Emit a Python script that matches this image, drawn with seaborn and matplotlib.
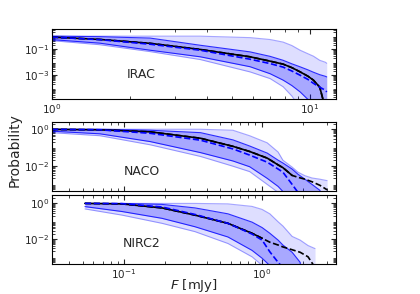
import numpy as np
import pandas as pd
import matplotlib
matplotlib.use("Agg")
import matplotlib.pyplot as plt
from matplotlib.ticker import NullFormatter, LogLocator
import seaborn as sns

# values (probability of exceeding flux F)
TINY = 1e-9

irac_f = [1.0, 1.53, 2.40, 3.75, 5.85, 7.0, 7.86, 8.5, 9.15, 9.8, 10.3, 10.9, 11.45, 11.6]
irac_hi95 = [1, 1, 1, 1, 0.77, 0.55, 0.35, 0.19, 0.083, 0.045, 0.029, 0.014, 0.010, 0.0083]
irac_hi68 = [1, 0.91, 0.71, 0.20, 0.062, 0.028, 0.014, 0.0075, 0.0044, 0.0026, 0.0017, 0.0011, 0.00083, 0.00074]
irac_lo68 = [0.54, 0.29, 0.083, 0.026, 0.0045, 0.0013, 4.2e-4, 1.6e-4, 5.2e-5, 1.4e-5, 3e-6, TINY, TINY, TINY]
irac_lo95 = [0.45, 0.22, 0.065, 0.016, 0.0018, 5.5e-4, 1.3e-4, 2.5e-5, 3e-6, TINY, TINY, TINY, TINY, TINY]
irac_obs = [0.84, 0.56, 0.28, 0.095, 0.026, 0.012, 0.0071, 0.0038, 0.0018, 8.5e-4, 4.2e-4, 1.2e-4, 3e-6, np.nan]
irac_ext = [0.84, 0.56, 0.28, 0.095, 0.026, 0.012, 0.0071, 0.0038, 0.0018, 8.5e-4, 4.2e-4, 1.2e-4, 3e-6, np.nan]
irac_model = [0.84, 0.54, 0.24, 0.083, 0.017, 0.0078, 0.0042, 0.0021, 0.001, 4.8e-4, 2.4e-4, 1.2e-4, 7.1e-5, 5.2e-5]

naco_f = [0.03, 0.067, 0.155, 0.36, 0.62, 0.82, 1.1, 1.32, 1.43, 1.67, 1.84, 2.07, 2.33, 2.66, 3.0]
naco_hi95 = [1, 1, 1, 1, 0.88, 0.44, 0.18, 0.056, 0.020, 0.0083, 0.0044, 0.0028, 0.0021, 0.0018, 0.0015]
naco_hi68 = [1, 1, 0.88, 0.65, 0.26, 0.12, 0.049, 0.020, 0.014, 0.0065, 0.0034, 0.0018, 9.3e-4, 4.4e-4, TINY]
naco_lo68 = [0.78, 0.56, 0.21, 0.052, 0.018, 0.0087, 0.002, 7.2e-4, 3.8e-4, TINY, TINY, TINY, TINY, TINY, TINY]
naco_lo95 = [0.65, 0.44, 0.14, 0.032, 0.0093, 0.0047, 9.3e-4, 3.4e-4, TINY, TINY, TINY, TINY, TINY, TINY, TINY]
naco_obs = [0.98, 0.93, 0.72, 0.32, 0.115, 0.06, 0.026, 0.011, 0.0078, 0.0029,
            np.nan, np.nan, np.nan, np.nan, np.nan]
naco_ext = [0.98, 0.93, 0.72, 0.32, 0.115, 0.06, 0.026, 0.011, 0.0078, 0.0029,
            0.0023, 0.0018, 0.0013, 8.3e-4, 4.7e-4]
naco_model = [0.98, 0.93, 0.6, 0.25, 0.083, 0.038, 0.0155, 0.0065, 0.0044, 9.3e-4, 3.4e-4,
              np.nan, np.nan, np.nan, np.nan]

nirc2_f = [0.052, 0.0967, 0.189, 0.328, 0.57, 0.853, 1.01, 1.15, 1.32, 1.43, 1.67, 1.91, 2.18, 2.45]
nirc2_hi95 = [1, 1, 1, 1, 0.94, 0.68, 0.46, 0.26, 0.093, 0.054, 0.014, 0.0087, 0.0043, 0.0029]
nirc2_hi68 = [1, 1, 0.88, 0.56, 0.26, 0.089, 0.044, 0.021, 0.0087, 0.0046, 0.0018, 4.9e-4, TINY, TINY]
nirc2_lo68 = [0.66, 0.35, 0.145, 0.049, 0.013, 0.0023, 8.3e-4, 3.2e-4, TINY, TINY, TINY, TINY, TINY, TINY]
nirc2_lo95 = [0.49, 0.22, 0.076, 0.026, 0.0056, 0.001, 3.3e-4, TINY, TINY, TINY, TINY, TINY, TINY, TINY]
nirc2_obs = [1.0, 0.94, 0.56, 0.22, 0.076, 0.021, 0.011,
             np.nan, np.nan, np.nan, np.nan, np.nan, np.nan, np.nan]
nirc2_ext = [1.0, 0.94, 0.56, 0.22, 0.076, 0.021, 0.011, 0.0066, 0.0046, 0.0036,
             0.0025, 0.0018, 0.001, 2.5e-4]
nirc2_model = [1.0, 0.97, 0.63, 0.24, 0.076, 0.019, 0.0087, 0.0019, 4.9e-4, 2.5e-4,
               np.nan, np.nan, np.nan, np.nan]

names = ["IRAC", "NACO", "NIRC2"]

sns.set_style("ticks")
plt.rcParams["font.family"] = ["DejaVu Sans"]

fig = plt.figure(figsize=(4.2, 2.94), dpi=100)
ax1 = fig.add_axes([0.124, 0.662, 0.676, 0.238])
ax2 = fig.add_axes([0.124, 0.350, 0.676, 0.235])
ax3 = fig.add_axes([0.124, 0.101, 0.676, 0.236], sharex=ax2)


def line(ax, f, p, **kw):
    d = pd.DataFrame({"f": f, "p": p}).dropna()
    sns.lineplot(data=d, x="f", y="p", ax=ax, sort=False, estimator=None, **kw)


def panel(ax, f, lo95, lo68, hi68, hi95, obs, ext, model, name, ty):
    ax.set_xscale("log")
    ax.set_yscale("log")
    ax.fill_between(f, lo95, hi95, color="blue", alpha=0.13, lw=0)
    ax.fill_between(f, lo68, hi68, color="blue", alpha=0.24, lw=0)
    for p in (lo95, hi95):
        line(ax, f, p, color="blue", alpha=0.35, lw=0.8)
    for p in (lo68, hi68):
        line(ax, f, p, color="blue", alpha=0.8, lw=0.8)
    line(ax, f, obs, color="black", lw=1.2)
    line(ax, f, ext, color="black", lw=1.2, linestyle="--")
    line(ax, f, model, color="blue", lw=1.2, linestyle="--")
    ax.text(0.315, ty, name, transform=ax.transAxes, ha="center", va="center", fontsize=9)
    ax.set_xlabel("")
    ax.set_ylabel("")
    ax.yaxis.set_minor_locator(LogLocator(base=10, subs=np.arange(2, 10), numticks=100))
    ax.tick_params(which="both", direction="in", top=True, right=True, labelsize=7.5, pad=2)
    ax.tick_params(which="minor", length=2)
    ax.xaxis.set_minor_formatter(NullFormatter())
    ax.yaxis.set_minor_formatter(NullFormatter())
    for s in ax.spines.values():
        s.set_color("black")
        s.set_linewidth(0.8)


panel(ax1, irac_f, irac_lo95, irac_lo68, irac_hi68, irac_hi95,
      irac_obs, irac_ext, irac_model, names[0], 0.35)
panel(ax2, naco_f, naco_lo95, naco_lo68, naco_hi68, naco_hi95,
      naco_obs, naco_ext, naco_model, names[1], 0.28)
panel(ax3, nirc2_f, nirc2_lo95, nirc2_lo68, nirc2_hi68, nirc2_hi95,
      nirc2_obs, nirc2_ext, nirc2_model, names[2], 0.30)

ax1.set_xlim(1, 12.6)
ax1.set_ylim(1.4e-5, 3.3)
ax2.set_xlim(0.03, 3.48)
ax2.set_ylim(4e-4, 2.5)
ax3.set_ylim(3.8e-4, 3.0)
ax2.tick_params(labelbottom=False)

ax3.set_xlabel(r"$F$ [mJy]", fontsize=9.5, labelpad=-3)
fig.text(0.036, 0.49, "Probability", rotation=90, ha="center", va="center", fontsize=10)

fig.savefig("out.png", dpi=100)
